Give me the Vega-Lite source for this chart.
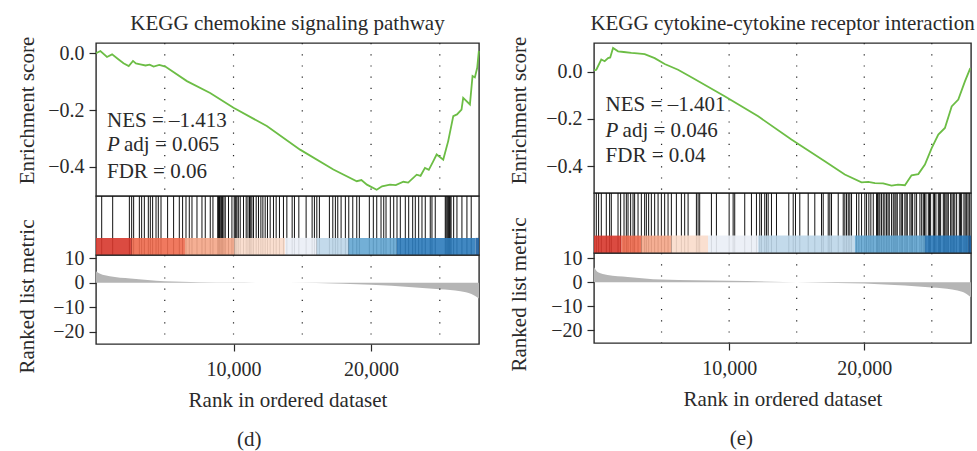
{
  "$schema": "https://vega.github.io/schema/vega-lite/v6.json",
  "background": "white",
  "padding": {"left": 15, "top": 12, "right": 2, "bottom": 2},
  "config": {
    "font": "Liberation Serif",
    "view": {"stroke": "#2a2a2a", "strokeWidth": 1.4},
    "axis": {"domain": false, "grid": false, "ticks": true, "tickColor": "#2a2a2a", "tickSize": 7, "tickWidth": 1.2, "labelColor": "#2a2a2a", "titleColor": "#2a2a2a", "labelFont": "Liberation Serif", "titleFont": "Liberation Serif", "labelFontSize": 20, "titleFontSize": 21, "titleFontWeight": "normal", "labelPadding": 5},
    "title": {"font": "Liberation Serif", "fontSize": 21, "fontWeight": "normal", "color": "#2a2a2a"},
    "text": {"font": "Liberation Serif", "fontSize": 21, "color": "#2a2a2a"}
  },
  "datasets": {
    "grid": [{"g": 5000}, {"g": 10000}, {"g": 15000}, {"g": 20000}, {"g": 25000}],
    "esD": [{"rank":0,"es":0.0},{"rank":320,"es":0.008},{"rank":800,"es":-0.013},{"rank":1170,"es":-0.004},{"rank":1600,"es":-0.02},{"rank":2000,"es":-0.035},{"rank":2380,"es":-0.045},{"rank":2690,"es":-0.027},{"rank":2900,"es":-0.036},{"rank":3220,"es":-0.039},{"rank":3600,"es":-0.043},{"rank":3900,"es":-0.04},{"rank":4190,"es":-0.047},{"rank":4600,"es":-0.041},{"rank":5040,"es":-0.047},{"rank":6610,"es":-0.098},{"rank":8300,"es":-0.14},{"rank":10000,"es":-0.192},{"rank":12420,"es":-0.256},{"rank":14840,"es":-0.339},{"rank":17260,"es":-0.409},{"rank":18960,"es":-0.45},{"rank":19300,"es":-0.446},{"rank":19700,"es":-0.462},{"rank":20410,"es":-0.48},{"rank":20800,"es":-0.468},{"rank":21380,"es":-0.462},{"rank":21800,"es":-0.464},{"rank":22350,"es":-0.452},{"rank":22700,"es":-0.455},{"rank":23320,"es":-0.427},{"rank":23600,"es":-0.431},{"rank":23920,"es":-0.403},{"rank":24200,"es":-0.41},{"rank":24520,"es":-0.38},{"rank":24770,"es":-0.356},{"rank":25250,"es":-0.374},{"rank":25610,"es":-0.309},{"rank":25980,"es":-0.221},{"rank":26250,"es":-0.215},{"rank":26580,"es":-0.198},{"rank":26700,"es":-0.157},{"rank":27190,"es":-0.18},{"rank":27380,"es":-0.08},{"rank":27550,"es":-0.085},{"rank":27720,"es":-0.051},{"rank":27840,"es":0.008}],
    "esE": [{"rank":0,"es":0.005},{"rank":170,"es":0.008},{"rank":540,"es":0.051},{"rank":790,"es":0.044},{"rank":1040,"es":0.057},{"rank":1200,"es":0.06},{"rank":1410,"es":0.1},{"rank":1780,"es":0.086},{"rank":2200,"es":0.083},{"rank":2760,"es":0.079},{"rank":3200,"es":0.077},{"rank":3750,"es":0.074},{"rank":4490,"es":0.057},{"rank":5230,"es":0.032},{"rank":6220,"es":0.008},{"rank":7210,"es":-0.024},{"rank":9670,"es":-0.104},{"rank":12150,"es":-0.189},{"rank":14610,"es":-0.287},{"rank":17080,"es":-0.379},{"rank":18560,"es":-0.435},{"rank":19800,"es":-0.468},{"rank":20300,"es":-0.466},{"rank":20790,"es":-0.471},{"rank":21400,"es":-0.472},{"rank":22020,"es":-0.482},{"rank":22500,"es":-0.478},{"rank":23010,"es":-0.48},{"rank":23500,"es":-0.438},{"rank":24000,"es":-0.433},{"rank":24490,"es":-0.393},{"rank":24990,"es":-0.323},{"rank":25480,"es":-0.266},{"rank":25970,"es":-0.238},{"rank":26470,"es":-0.147},{"rank":26960,"es":-0.118},{"rank":27450,"es":-0.041},{"rank":27850,"es":0.015}],
    "metD": [{"rank":0,"m":4.8},{"rank":300,"m":3.7},{"rank":1000,"m":2.7},{"rank":2500,"m":1.8},{"rank":5000,"m":0.7},{"rank":10000,"m":0.15},{"rank":14000,"m":0},{"rank":18000,"m":-0.4},{"rank":20000,"m":-0.8},{"rank":23000,"m":-1.8},{"rank":25000,"m":-2.6},{"rank":26500,"m":-3.4},{"rank":27300,"m":-4.5},{"rank":27850,"m":-6.4}],
    "metE": [{"rank":0,"m":6.2},{"rank":300,"m":4.1},{"rank":1000,"m":3.0},{"rank":2500,"m":2.2},{"rank":5000,"m":1.1},{"rank":10000,"m":0.55},{"rank":14000,"m":0.1},{"rank":18000,"m":-0.3},{"rank":20000,"m":-0.55},{"rank":23000,"m":-1.4},{"rank":25000,"m":-2.2},{"rank":26500,"m":-3.0},{"rank":27300,"m":-4.1},{"rank":27900,"m":-6.2}],
    "barD": [{"start":0,"end":2600,"seg":1},{"start":2600,"end":6470,"seg":2},{"start":6470,"end":10070,"seg":3},{"start":10070,"end":13750,"seg":4},{"start":13750,"end":16050,"seg":5},{"start":16050,"end":18350,"seg":6},{"start":18350,"end":21860,"seg":7},{"start":21860,"end":27600,"seg":8},{"start":27600,"end":27850,"seg":9}],
    "barE": [{"start":0,"end":2030,"seg":1},{"start":2030,"end":3500,"seg":2},{"start":3500,"end":5730,"seg":3},{"start":5730,"end":8440,"seg":4},{"start":8440,"end":12150,"seg":5},{"start":12150,"end":19310,"seg":6},{"start":19310,"end":24500,"seg":7},{"start":24500,"end":27700,"seg":8},{"start":27700,"end":27900,"seg":9}],
    "statsD": [{"rank":800,"es":-0.239,"t":"NES = –1.413"},{"rank":800,"es":-0.419,"t":"FDR = 0.06"}],
    "pD": [{"rank":800,"es":-0.323,"p":"P","t":"adj = 0.065"}],
    "statsE": [{"rank":860,"es":-0.142,"t":"NES = –1.401"},{"rank":860,"es":-0.358,"t":"FDR = 0.04"}],
    "pE": [{"rank":860,"es":-0.252,"p":"P","t":"adj = 0.046"}],
    "hitsD": [{"rank":414},{"rank":1213},{"rank":2426},{"rank":2593},{"rank":2738},{"rank":3152},{"rank":3319},{"rank":3515},{"rank":3805},{"rank":3950},{"rank":4118},{"rank":4365},{"rank":4531},{"rank":4727},{"rank":5207},{"rank":5643},{"rank":6057},{"rank":6297},{"rank":6544},{"rank":6783},{"rank":6979},{"rank":7342},{"rank":7705},{"rank":7945},{"rank":8308},{"rank":8504},{"rank":8850},{"rank":8911},{"rank":8980},{"rank":9035},{"rank":9120},{"rank":9202},{"rank":9300},{"rank":9398},{"rank":9637},{"rank":9884},{"rank":10050},{"rank":10124},{"rank":10180},{"rank":10247},{"rank":10350},{"rank":10487},{"rank":10726},{"rank":10922},{"rank":11050},{"rank":11162},{"rank":11250},{"rank":11336},{"rank":11452},{"rank":11648},{"rank":11816},{"rank":11990},{"rank":12135},{"rank":12302},{"rank":12469},{"rank":12665},{"rank":12905},{"rank":13101},{"rank":13341},{"rank":13631},{"rank":13878},{"rank":14263},{"rank":14430},{"rank":14749},{"rank":15279},{"rank":15715},{"rank":15882},{"rank":16057},{"rank":16245},{"rank":16972},{"rank":17219},{"rank":17407},{"rank":17581},{"rank":17821},{"rank":18133},{"rank":18381},{"rank":18671},{"rank":18961},{"rank":19150},{"rank":19876},{"rank":20167},{"rank":20414},{"rank":20726},{"rank":20923},{"rank":21089},{"rank":21402},{"rank":21648},{"rank":21888},{"rank":22128},{"rank":22491},{"rank":22738},{"rank":23028},{"rank":23218},{"rank":23464},{"rank":23704},{"rank":23943},{"rank":24306},{"rank":24430},{"rank":24669},{"rank":25396},{"rank":25450},{"rank":25519},{"rank":25580},{"rank":25642},{"rank":25700},{"rank":25759},{"rank":25820},{"rank":26006},{"rank":26246},{"rank":26609},{"rank":26972},{"rank":27284}],
    "hitsE": [{"rank":170},{"rank":341},{"rank":541},{"rank":911},{"rank":1156},{"rank":1281},{"rank":1778},{"rank":1970},{"rank":2222},{"rank":2393},{"rank":2519},{"rank":2711},{"rank":2889},{"rank":3007},{"rank":3259},{"rank":3504},{"rank":3748},{"rank":3874},{"rank":4044},{"rank":4244},{"rank":4489},{"rank":4741},{"rank":4985},{"rank":5230},{"rank":5481},{"rank":5726},{"rank":6096},{"rank":6467},{"rank":6711},{"rank":6963},{"rank":7578},{"rank":7704},{"rank":7822},{"rank":8689},{"rank":9059},{"rank":10000},{"rank":10296},{"rank":10415},{"rank":11156},{"rank":11652},{"rank":12022},{"rank":12267},{"rank":12393},{"rank":12637},{"rank":12763},{"rank":12889},{"rank":13133},{"rank":13504},{"rank":14415},{"rank":14741},{"rank":14911},{"rank":15230},{"rank":15852},{"rank":16341},{"rank":16837},{"rank":16963},{"rank":17333},{"rank":17452},{"rank":17578},{"rank":18074},{"rank":18444},{"rank":18563},{"rank":18689},{"rank":18815},{"rank":18933},{"rank":19059},{"rank":19430},{"rank":19600},{"rank":19800},{"rank":20044},{"rank":20170},{"rank":20341},{"rank":20489},{"rank":20667},{"rank":20911},{"rank":20985},{"rank":21080},{"rank":21156},{"rank":21281},{"rank":21407},{"rank":21526},{"rank":21652},{"rank":21760},{"rank":21852},{"rank":22022},{"rank":22148},{"rank":22267},{"rank":22350},{"rank":22444},{"rank":22637},{"rank":22740},{"rank":22837},{"rank":23007},{"rank":23100},{"rank":23185},{"rank":23378},{"rank":23480},{"rank":23578},{"rank":23748},{"rank":23874},{"rank":24119},{"rank":24250},{"rank":24370},{"rank":24460},{"rank":24563},{"rank":24741},{"rank":24830},{"rank":24911},{"rank":25111},{"rank":25200},{"rank":25304},{"rank":25481},{"rank":25560},{"rank":25652},{"rank":25852},{"rank":25950},{"rank":26044},{"rank":26130},{"rank":26222},{"rank":26393},{"rank":26490},{"rank":26593},{"rank":26700},{"rank":26837},{"rank":27037},{"rank":27120},{"rank":27207},{"rank":27378},{"rank":27470},{"rank":27578},{"rank":27680},{"rank":27778}]
  },
  "spacing": 23,
  "hconcat": [
    {
      "spacing": 0,
      "bounds": "flush",
      "title": {"text": "(d)", "orient": "bottom", "anchor": "middle", "offset": 18},
      "vconcat": [
        {
          "width": 383, "height": 153,
          "title": {"text": "KEGG chemokine signaling pathway", "anchor": "middle", "frame": "group", "offset": 2},
          "layer": [
            {"data": {"name": "grid"}, "mark": {"type": "rule", "strokeDash": [1.2, 10], "color": "#222", "strokeWidth": 1.2},
             "encoding": {"x": {"field": "g", "type": "quantitative", "scale": {"domain": [0, 27850], "nice": false}, "axis": null}}},
            {"data": {"name": "esD"}, "mark": {"type": "line", "color": "#6CBD45", "strokeWidth": 1.8},
             "encoding": {"x": {"field": "rank", "type": "quantitative", "axis": null},
                          "y": {"field": "es", "type": "quantitative", "scale": {"domain": [-0.502, 0.036], "nice": false, "zero": false},
                                "axis": {"values": [0, -0.2, -0.4], "format": ".1f", "title": "Enrichment score", "titleX": -63, "titleY": 67, "titleBaseline": "alphabetic"}}}},
            {"data": {"name": "statsD"}, "mark": {"type": "text", "align": "left", "baseline": "middle"},
             "encoding": {"x": {"field": "rank", "type": "quantitative"}, "y": {"field": "es", "type": "quantitative"}, "text": {"field": "t"}}},
            {"data": {"name": "pD"}, "mark": {"type": "text", "align": "left", "baseline": "middle", "fontStyle": "italic"},
             "encoding": {"x": {"field": "rank", "type": "quantitative"}, "y": {"field": "es", "type": "quantitative"}, "text": {"field": "p"}}},
            {"data": {"name": "pD"}, "mark": {"type": "text", "align": "left", "baseline": "middle", "dx": 17},
             "encoding": {"x": {"field": "rank", "type": "quantitative"}, "y": {"field": "es", "type": "quantitative"}, "text": {"field": "t"}}}
          ]
        },
        {
          "width": 383, "height": 59,
          "layer": [
            {"data": {"name": "hitsD"}, "mark": {"type": "rule", "color": "#111", "strokeWidth": 1},
             "encoding": {"x": {"field": "rank", "type": "quantitative", "scale": {"domain": [0, 27850], "nice": false}, "axis": null},
                          "y": {"datum": 0, "type": "quantitative", "scale": {"domain": [0, 1], "nice": false}, "axis": null}, "y2": {"datum": 1}}},
            {"data": {"name": "barD"}, "mark": {"type": "rect", "opacity": 0.9},
             "encoding": {"x": {"field": "start", "type": "quantitative"}, "x2": {"field": "end"},
                          "y": {"datum": 0, "type": "quantitative"}, "y2": {"datum": 0.29},
                          "color": {"field": "seg", "type": "ordinal", "scale": {"domain": [1,2,3,4,5,6,7,8,9], "range": ["#D7372C","#EE6A4E","#F4A688","#FADCCB","#EAEEF6","#BDD6E9","#64A6D1","#2C7BBB","#1A5D9E"]}, "legend": null}}}
          ]
        },
        {
          "width": 383, "height": 89,
          "layer": [
            {"data": {"name": "metD"}, "mark": {"type": "area", "color": "#b5b5b5", "interpolate": "monotone"},
             "encoding": {"x": {"field": "rank", "type": "quantitative", "scale": {"domain": [0, 27850], "nice": false},
                                "axis": {"values": [10000, 20000], "format": ",d", "title": "Rank in ordered dataset", "labelPadding": 8, "titlePadding": 10}},
                          "y": {"field": "m", "type": "quantitative", "scale": {"domain": [-25, 11.4], "nice": false, "zero": false},
                                "axis": {"values": [10, 0, -10, -20], "title": "Ranked list metric", "titleX": -63, "titleY": 41, "titleBaseline": "alphabetic"}},
                          "y2": {"datum": 0}}},
            {"data": {"name": "grid"}, "mark": {"type": "rule", "strokeDash": [1.2, 10], "color": "#222", "strokeWidth": 1.2},
             "encoding": {"x": {"field": "g", "type": "quantitative",
                                "axis": {"values": [10000, 20000], "format": ",d", "title": "Rank in ordered dataset", "labelPadding": 8, "titlePadding": 10}}}}
          ]
        }
      ]
    },
    {
      "spacing": 0,
      "bounds": "flush",
      "title": {"text": "(e)", "orient": "bottom", "anchor": "middle", "offset": 18},
      "vconcat": [
        {
          "width": 377, "height": 150,
          "title": {"text": "KEGG cytokine-cytokine receptor interaction", "anchor": "middle", "frame": "group", "offset": 2},
          "layer": [
            {"data": {"name": "grid"}, "mark": {"type": "rule", "strokeDash": [1.2, 10], "color": "#222", "strokeWidth": 1.2},
             "encoding": {"x": {"field": "g", "type": "quantitative", "scale": {"domain": [0, 27900], "nice": false}, "axis": null}}},
            {"data": {"name": "esE"}, "mark": {"type": "line", "color": "#6CBD45", "strokeWidth": 1.8},
             "encoding": {"x": {"field": "rank", "type": "quantitative", "axis": null},
                          "y": {"field": "es", "type": "quantitative", "scale": {"domain": [-0.513, 0.121], "nice": false, "zero": false},
                                "axis": {"values": [0.1, 0, -0.1, -0.2, -0.3, -0.4], "format": ".1f", "title": "Enrichment score", "titleX": -69, "titleY": 67, "titleBaseline": "alphabetic"}}}},
            {"data": {"name": "statsE"}, "mark": {"type": "text", "align": "left", "baseline": "middle"},
             "encoding": {"x": {"field": "rank", "type": "quantitative"}, "y": {"field": "es", "type": "quantitative"}, "text": {"field": "t"}}},
            {"data": {"name": "pE"}, "mark": {"type": "text", "align": "left", "baseline": "middle", "fontStyle": "italic"},
             "encoding": {"x": {"field": "rank", "type": "quantitative"}, "y": {"field": "es", "type": "quantitative"}, "text": {"field": "p"}}},
            {"data": {"name": "pE"}, "mark": {"type": "text", "align": "left", "baseline": "middle", "dx": 17},
             "encoding": {"x": {"field": "rank", "type": "quantitative"}, "y": {"field": "es", "type": "quantitative"}, "text": {"field": "t"}}}
          ]
        },
        {
          "width": 377, "height": 60,
          "layer": [
            {"data": {"name": "hitsE"}, "mark": {"type": "rule", "color": "#111", "strokeWidth": 1},
             "encoding": {"x": {"field": "rank", "type": "quantitative", "scale": {"domain": [0, 27900], "nice": false}, "axis": null},
                          "y": {"datum": 0, "type": "quantitative", "scale": {"domain": [0, 1], "nice": false}, "axis": null}, "y2": {"datum": 1}}},
            {"data": {"name": "barE"}, "mark": {"type": "rect", "opacity": 0.9},
             "encoding": {"x": {"field": "start", "type": "quantitative"}, "x2": {"field": "end"},
                          "y": {"datum": 0, "type": "quantitative"}, "y2": {"datum": 0.29},
                          "color": {"field": "seg", "type": "ordinal", "scale": {"domain": [1,2,3,4,5,6,7,8,9], "range": ["#D7372C","#EE6A4E","#F4A688","#FADCCB","#EAEEF6","#BDD6E9","#64A6D1","#2C7BBB","#1A5D9E"]}, "legend": null}}}
          ]
        },
        {
          "width": 377, "height": 90,
          "layer": [
            {"data": {"name": "metE"}, "mark": {"type": "area", "color": "#b5b5b5", "interpolate": "monotone"},
             "encoding": {"x": {"field": "rank", "type": "quantitative", "scale": {"domain": [0, 27900], "nice": false},
                                "axis": {"values": [10000, 20000], "format": ",d", "title": "Rank in ordered dataset", "labelPadding": 8, "titlePadding": 10}},
                          "y": {"field": "m", "type": "quantitative", "scale": {"domain": [-25.2, 12.1], "nice": false, "zero": false},
                                "axis": {"values": [10, 0, -10, -20], "title": "Ranked list metric", "titleX": -69, "titleY": 41, "titleBaseline": "alphabetic"}},
                          "y2": {"datum": 0}}},
            {"data": {"name": "grid"}, "mark": {"type": "rule", "strokeDash": [1.2, 10], "color": "#222", "strokeWidth": 1.2},
             "encoding": {"x": {"field": "g", "type": "quantitative",
                                "axis": {"values": [10000, 20000], "format": ",d", "title": "Rank in ordered dataset", "labelPadding": 8, "titlePadding": 10}}}}
          ]
        }
      ]
    }
  ]
}
